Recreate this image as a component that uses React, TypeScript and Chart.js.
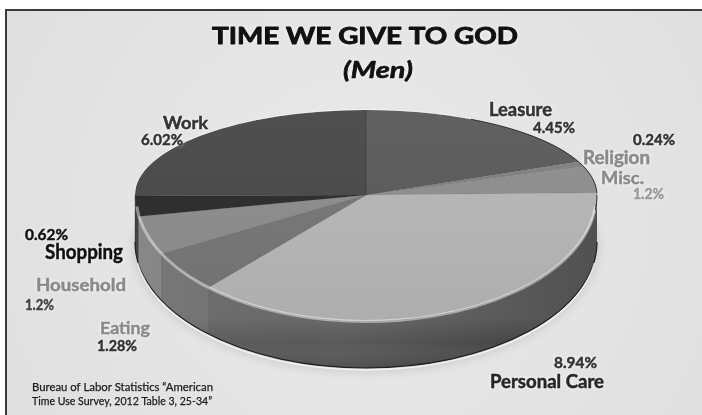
import React, { useEffect, useRef } from 'react';
import { Chart, registerables } from 'chart.js';

Chart.register(...registerables);

// ---------- data ----------
const categories = ['Leasure', 'Religion', 'Misc.', 'Personal Care', 'Eating', 'Household', 'Shopping', 'Work'];
const hours = [4.45, 0.24, 1.2, 8.94, 1.28, 1.2, 0.62, 6.02];
const valueLabels = hours.map((v) => `${v}%`);

const titleText = 'TIME WE GIVE TO GOD';
const subtitleText = '(Men)';
const sourceLines = ['Bureau of Labor Statistics \u201CAmerican', 'Time Use Survey, 2012 Table 3, 25-34\u201D'];

// ---------- styles ----------
const topColors = ['#5a5a5a', '#808080', '#8e8e8e', '#b7b7b7', '#767676', '#8d8d8d', '#2b2b2b', '#484848'];
const sideColors = ['#3e3e3e', '#555555', '#606060', '#5a5a5a', '#626262', '#727272', '#222222', '#333333'];

const W = 702;
const H = 415;
// perspective-ish disc: back half and front half have different vertical radii
const PIE = { cx: 366, cy: 195, rx: 231, ryBack: 85, ryFront: 126, depth: 47 };
const FONT = 'Lato, "Open Sans", "DejaVu Sans", sans-serif';
const CAP_RATIO = 0.7165;

type LabelSpot = { i: number; kind: 'name' | 'value'; x: number; y: number; w: number; cap: number; color: string };
const labelLayout: LabelSpot[] = [
  { i: 0, kind: 'name', x: 489, y: 115.5, w: 63, cap: 13, color: '#333333' },
  { i: 0, kind: 'value', x: 533, y: 133, w: 42, cap: 11.3, color: '#333333' },
  { i: 1, kind: 'value', x: 633, y: 145, w: 42, cap: 11, color: '#333333' },
  { i: 1, kind: 'name', x: 583, y: 164, w: 67, cap: 13, color: '#8a8a8a' },
  { i: 2, kind: 'name', x: 601, y: 183.5, w: 43, cap: 12.5, color: '#8a8a8a' },
  { i: 2, kind: 'value', x: 633, y: 199, w: 31, cap: 10.7, color: '#9a9a9a' },
  { i: 3, kind: 'value', x: 554, y: 368, w: 43, cap: 10.7, color: '#333333' },
  { i: 3, kind: 'name', x: 490, y: 388, w: 114, cap: 13, color: '#262626' },
  { i: 4, kind: 'name', x: 100, y: 333.5, w: 50, cap: 12.7, color: '#8a8a8a' },
  { i: 4, kind: 'value', x: 97, y: 351, w: 40, cap: 11.2, color: '#333333' },
  { i: 5, kind: 'name', x: 36, y: 291, w: 90, cap: 12.5, color: '#8a8a8a' },
  { i: 5, kind: 'value', x: 25, y: 310, w: 29, cap: 10.5, color: '#444444' },
  { i: 6, kind: 'name', x: 45, y: 258.5, w: 78, cap: 14.5, color: '#111111' },
  { i: 6, kind: 'value', x: 25, y: 240, w: 43, cap: 11, color: '#111111' },
  { i: 7, kind: 'name', x: 163, y: 129, w: 45, cap: 12.5, color: '#333333' },
  { i: 7, kind: 'value', x: 141, y: 145, w: 42, cap: 10.7, color: '#333333' },
];

// draws text whose cap height and width match the given box
function drawBox(
  ctx: CanvasRenderingContext2D,
  text: string,
  x: number,
  y: number,
  w: number,
  cap: number,
  color: string,
  weight = 'bold',
  style = 'normal',
  align: CanvasTextAlign = 'left',
  heavy = 0,
) {
  const size = cap / CAP_RATIO;
  ctx.font = `${style} ${weight} ${size.toFixed(2)}px ${FONT}`;
  const m = ctx.measureText(text).width || 1;
  const k = w / m;
  ctx.save();
  ctx.translate(x, y);
  ctx.scale(k, 1);
  ctx.textAlign = align;
  ctx.textBaseline = 'alphabetic';
  ctx.fillStyle = color;
  ctx.fillText(text, 0, 0);
  if (heavy > 0) {
    ctx.shadowBlur = 0;
    ctx.shadowColor = 'transparent';
    ctx.strokeStyle = color;
    ctx.lineWidth = heavy;
    ctx.lineJoin = 'round';
    ctx.strokeText(text, 0, 0);
  }
  ctx.restore();
}

const backgroundPlugin = {
  id: 'bg',
  beforeDraw(chart: any) {
    const ctx: CanvasRenderingContext2D = chart.ctx;
    ctx.save();
    ctx.fillStyle = '#ffffff';
    ctx.fillRect(0, 0, W, H);
    const g = ctx.createRadialGradient(360, 220, 40, 360, 220, 420);
    g.addColorStop(0, '#e9e9e9');
    g.addColorStop(1, '#dfdfdf');
    ctx.fillStyle = g;
    ctx.fillRect(6, 10, W, H);
    ctx.strokeStyle = '#3a3a3a';
    ctx.lineWidth = 2;
    ctx.beginPath();
    ctx.moveTo(6, H + 5);
    ctx.lineTo(6, 10);
    ctx.lineTo(W + 5, 10);
    ctx.stroke();
    ctx.restore();
  },
};

function sidePath(ctx: CanvasRenderingContext2D, a0: number, a1: number) {
  const { cx, cy, rx, ryFront, depth } = PIE;
  ctx.beginPath();
  ctx.ellipse(cx, cy, rx, ryFront, 0, a0, a1, false);
  ctx.ellipse(cx, cy + depth, rx, ryFront, 0, a1, a0, true);
  ctx.closePath();
}

function discPath(ctx: CanvasRenderingContext2D, dy: number, grow = 0) {
  const { cx, cy, rx, ryBack, ryFront } = PIE;
  ctx.beginPath();
  ctx.ellipse(cx, cy + dy, rx + grow, ryBack + grow, 0, Math.PI, Math.PI * 2, false);
  ctx.ellipse(cx, cy + dy, rx + grow, ryFront + grow, 0, 0, Math.PI, false);
  ctx.closePath();
}

function faceTransform(ctx: CanvasRenderingContext2D, el: any, ry: number) {
  const { cx, cy, rx } = PIE;
  ctx.translate(cx, cy);
  ctx.scale(rx / el.outerRadius, ry / el.outerRadius);
  ctx.translate(-el.x, -el.y);
}

const pie3dPlugin = {
  id: 'pie3d',
  beforeDatasetsDraw(chart: any) {
    const ctx: CanvasRenderingContext2D = chart.ctx;
    const arcs = chart.getDatasetMeta(0).data as any[];
    if (!arcs.length) return;
    const { cx, cy, rx, ryFront, depth } = PIE;
    ctx.save();
    // soft floor shadow
    ctx.save();
    ctx.fillStyle = 'rgba(0,0,0,0.10)';
    ctx.filter = 'blur(4px)';
    discPath(ctx, depth + 3, 2);
    ctx.fill();
    ctx.restore();
    // sides (front half only)
    arcs.forEach((el, i) => {
      const lo = Math.max(el.startAngle, 0);
      const hi = Math.min(el.endAngle, Math.PI);
      if (hi <= lo) return;
      sidePath(ctx, lo, hi);
      ctx.fillStyle = sideColors[i];
      ctx.fill();
    });
    // shading on the whole side
    sidePath(ctx, 0, Math.PI);
    const sg = ctx.createLinearGradient(cx - rx, 0, cx + rx, 0);
    sg.addColorStop(0, 'rgba(255,255,255,0.06)');
    sg.addColorStop(0.45, 'rgba(0,0,0,0.0)');
    sg.addColorStop(1, 'rgba(0,0,0,0.32)');
    ctx.fillStyle = sg;
    ctx.fill();
    const vg = ctx.createLinearGradient(0, cy + ryFront - 4, 0, cy + ryFront + depth);
    vg.addColorStop(0, 'rgba(255,255,255,0.10)');
    vg.addColorStop(0.5, 'rgba(255,255,255,0)');
    vg.addColorStop(1, 'rgba(0,0,0,0.12)');
    ctx.fillStyle = vg;
    ctx.fill();
    // dividing lines on side
    ctx.strokeStyle = 'rgba(0,0,0,0.22)';
    ctx.lineWidth = 1;
    arcs.forEach((el) => {
      const a = el.endAngle;
      if (a > 0 && a < Math.PI) {
        const x = cx + rx * Math.cos(a);
        const y = cy + ryFront * Math.sin(a);
        ctx.beginPath();
        ctx.moveTo(x, y);
        ctx.lineTo(x, y + depth);
        ctx.stroke();
      }
    });
    // bottom outline + reflection
    ctx.strokeStyle = '#1e1e1e';
    ctx.lineWidth = 1.2;
    ctx.beginPath();
    ctx.ellipse(cx, cy + depth, rx, ryFront, 0, 0, Math.PI);
    ctx.stroke();
    ctx.strokeStyle = 'rgba(255,255,255,0.7)';
    ctx.lineWidth = 1.5;
    ctx.beginPath();
    ctx.ellipse(cx, cy + depth + 2, rx, ryFront, 0, 0.15, Math.PI - 0.15);
    ctx.stroke();

    // back half of the top face: the chart draws its arcs into this clipped, squashed space
    ctx.beginPath();
    ctx.rect(0, 0, W, cy);
    ctx.clip();
    faceTransform(ctx, arcs[0], PIE.ryBack);
  },
  afterDatasetsDraw(chart: any) {
    const ctx: CanvasRenderingContext2D = chart.ctx;
    ctx.restore();
    const arcs = chart.getDatasetMeta(0).data as any[];
    if (!arcs.length) return;
    const { cx, cy, rx, ryFront } = PIE;
    // front half of the top face: redraw the same arc elements with a deeper squash
    ctx.save();
    ctx.beginPath();
    ctx.rect(0, cy, W, H);
    ctx.clip();
    faceTransform(ctx, arcs[0], ryFront);
    arcs.forEach((el) => el.draw(ctx));
    ctx.restore();

    ctx.save();
    // gentle lighting on top face
    discPath(ctx, 0);
    const tg = ctx.createLinearGradient(0, cy - PIE.ryBack, 0, cy + ryFront);
    tg.addColorStop(0, 'rgba(255,255,255,0.04)');
    tg.addColorStop(1, 'rgba(0,0,0,0.05)');
    ctx.fillStyle = tg;
    ctx.fill();
    // bevel highlight on the front rim
    ctx.strokeStyle = 'rgba(255,255,255,0.45)';
    ctx.lineWidth = 3;
    ctx.beginPath();
    ctx.ellipse(cx, cy + 1.5, rx - 1, ryFront - 1, 0, 0.08, Math.PI - 0.08);
    ctx.stroke();
    // outlines
    ctx.strokeStyle = 'rgba(30,30,30,0.8)';
    ctx.lineWidth = 1;
    ctx.beginPath();
    ctx.ellipse(cx, cy, rx, PIE.ryBack, 0, -0.02, -Math.PI * 0.35, true);
    ctx.stroke();
    ctx.beginPath();
    ctx.ellipse(cx, cy, rx, ryFront, 0, 0, 0.12);
    ctx.stroke();
    ctx.strokeStyle = 'rgba(255,255,255,0.55)';
    ctx.beginPath();
    ctx.ellipse(cx, cy, rx + 0.5, PIE.ryBack + 0.5, 0, Math.PI, Math.PI * 1.65);
    ctx.stroke();
    ctx.restore();
  },
};

const labelsPlugin = {
  id: 'labels3d',
  afterDraw(chart: any) {
    const ctx: CanvasRenderingContext2D = chart.ctx;
    ctx.save();
    ctx.shadowColor = 'rgba(255,255,255,0.95)';
    ctx.shadowBlur = 4;
    drawBox(ctx, titleText, 365, 44, 306, 16.5, '#111111', 'bold', 'normal', 'center', 0.9);
    drawBox(ctx, subtitleText, 378, 78, 70, 16, '#111111', 'bold', 'italic', 'center', 0.6);
    labelLayout.forEach((l) => {
      const text = l.kind === 'name' ? categories[l.i] : valueLabels[l.i];
      drawBox(ctx, text, l.x, l.y, l.w, l.cap, l.color, 'bold', 'normal', 'left', 0.45);
    });
    ctx.shadowBlur = 0;
    drawBox(ctx, sourceLines[0], 32, 391, 181, 8.5, '#1a1a1a', 'normal', 'normal', 'left', 0.25);
    drawBox(ctx, sourceLines[1], 32, 404.5, 180, 8.5, '#1a1a1a', 'normal', 'normal', 'left', 0.25);
    ctx.restore();
  },
};

export default function App() {
  const ref = useRef<HTMLCanvasElement>(null);
  useEffect(() => {
    const canvas = ref.current;
    if (!canvas) return;
    const chart = new Chart(canvas, {
      type: 'pie',
      data: {
        labels: categories,
        datasets: [
          {
            data: hours,
            backgroundColor: topColors,
            borderWidth: 1,
            borderColor: 'rgba(0,0,0,0.12)',
            clip: false,
          } as any,
        ],
      },
      options: {
        responsive: false,
        animation: false,
        events: [],
        layout: { padding: 0 },
        plugins: {
          legend: { display: false },
          tooltip: { enabled: false },
          title: { display: false },
        },
      },
      plugins: [backgroundPlugin, pie3dPlugin, labelsPlugin],
    });
    return () => chart.destroy();
  }, []);
  return (
    <div style={{ position: 'fixed', left: 0, top: 0, width: W, height: H, background: '#fff' }}>
      <canvas ref={ref} width={W} height={H} style={{ display: 'block', width: W, height: H }} />
    </div>
  );
}
